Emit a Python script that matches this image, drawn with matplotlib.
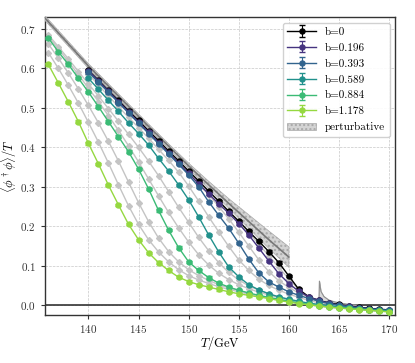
import numpy as np
import matplotlib
matplotlib.use("Agg")
import matplotlib.pyplot as plt

plt.rcParams['font.family'] = 'serif'
plt.rcParams['font.serif'] = ['cmr10', 'DejaVu Serif']
plt.rcParams['mathtext.fontset'] = 'cm'
plt.rcParams['axes.formatter.use_mathtext'] = True
plt.rcParams['font.size'] = 8

# temperatures (GeV)
T_short = np.arange(140, 171)
T_long = np.arange(136, 171)

# coloured curves (legend)
y_b0 = [0.595, 0.570, 0.544, 0.519, 0.493, 0.468, 0.442, 0.417, 0.391, 0.366,
        0.340, 0.315, 0.289, 0.264, 0.238, 0.213, 0.187, 0.162, 0.136, 0.108,
        0.074, 0.040, 0.021, 0.012, 0.006, 0.002, -0.002, -0.005, -0.008, -0.010, -0.012]
y_b196 = [0.594, 0.568, 0.542, 0.516, 0.490, 0.464, 0.438, 0.412, 0.386, 0.360,
          0.334, 0.308, 0.282, 0.257, 0.233, 0.207, 0.178, 0.145, 0.112, 0.080,
          0.055, 0.035, 0.021, 0.012, 0.005, 0.000, -0.003, -0.006, -0.009, -0.011, -0.013]
y_b393 = [0.590, 0.565, 0.539, 0.513, 0.487, 0.461, 0.435, 0.409, 0.383, 0.357,
          0.330, 0.300, 0.262, 0.228, 0.195, 0.157, 0.117, 0.082, 0.059, 0.046,
          0.034, 0.025, 0.017, 0.010, 0.004, 0.000, -0.004, -0.007, -0.009, -0.011, -0.013]
y_b589 = [0.575, 0.547, 0.519, 0.491, 0.462, 0.435, 0.406, 0.372, 0.340, 0.305,
          0.267, 0.224, 0.178, 0.135, 0.097, 0.072, 0.052, 0.039, 0.029, 0.021,
          0.015, 0.010, 0.005, 0.002, -0.001, -0.004, -0.006, -0.009, -0.011, -0.013, -0.014]
y_b884 = [0.677, 0.642, 0.610, 0.575, 0.540, 0.503, 0.465, 0.427, 0.389, 0.345,
          0.295, 0.240, 0.190, 0.146, 0.110, 0.088, 0.070, 0.056, 0.046, 0.038,
          0.031, 0.025, 0.020, 0.015, 0.010, 0.006, 0.002, -0.001, -0.004, -0.006,
          -0.008, -0.010, -0.012, -0.014, -0.016]
y_b1178 = [0.610, 0.563, 0.515, 0.465, 0.410, 0.358, 0.304, 0.254, 0.205, 0.166,
           0.133, 0.108, 0.088, 0.071, 0.060, 0.052, 0.046, 0.040, 0.034, 0.029,
           0.025, 0.021, 0.017, 0.012, 0.008, 0.004, 0.001, -0.002, -0.005, -0.007,
           -0.009, -0.011, -0.013, -0.015, -0.017]

# intermediate b values (grey, no legend)
g_098 = [0.593, 0.568, 0.542, 0.517, 0.491, 0.466, 0.440, 0.415, 0.389, 0.364,
         0.338, 0.313, 0.287, 0.262, 0.236, 0.211, 0.184, 0.155, 0.125, 0.096,
         0.066, 0.040, 0.022, 0.012, 0.006, 0.001, -0.003, -0.006, -0.008, -0.010, -0.012]
g_295 = [0.592, 0.566, 0.540, 0.515, 0.489, 0.463, 0.437, 0.411, 0.386, 0.360,
         0.333, 0.306, 0.280, 0.250, 0.219, 0.185, 0.150, 0.115, 0.085, 0.062,
         0.045, 0.031, 0.020, 0.011, 0.005, 0.000, -0.004, -0.007, -0.009, -0.011, -0.013]
g_491 = [0.585, 0.558, 0.530, 0.503, 0.476, 0.450, 0.423, 0.395, 0.367, 0.337,
         0.302, 0.264, 0.224, 0.186, 0.149, 0.115, 0.088, 0.066, 0.050, 0.038,
         0.028, 0.020, 0.012, 0.006, 0.002, -0.002, -0.005, -0.008, -0.010, -0.012, -0.014]
g_687 = [0.685, 0.655, 0.624, 0.592, 0.561, 0.530, 0.498, 0.466, 0.433, 0.400,
         0.365, 0.328, 0.288, 0.248, 0.210, 0.172, 0.138, 0.108, 0.083, 0.064,
         0.049, 0.038, 0.029, 0.021, 0.015, 0.009, 0.004, 0.001, -0.002, -0.005,
         -0.007, -0.009, -0.011, -0.013, -0.015]
g_785 = [0.680, 0.650, 0.617, 0.584, 0.550, 0.516, 0.480, 0.443, 0.404, 0.363,
         0.320, 0.277, 0.235, 0.196, 0.160, 0.128, 0.102, 0.081, 0.065, 0.052,
         0.042, 0.033, 0.026, 0.019, 0.013, 0.008, 0.003, 0.000, -0.003, -0.005,
         -0.007, -0.009, -0.011, -0.013, -0.015]
g_982 = [0.662, 0.626, 0.588, 0.548, 0.506, 0.462, 0.415, 0.365, 0.312, 0.260,
         0.212, 0.170, 0.136, 0.110, 0.090, 0.075, 0.063, 0.052, 0.044, 0.037,
         0.030, 0.024, 0.019, 0.014, 0.009, 0.005, 0.001, -0.002, -0.005, -0.007,
         -0.009, -0.011, -0.013, -0.015, -0.016]
g_1080 = [0.640, 0.600, 0.557, 0.512, 0.463, 0.413, 0.360, 0.305, 0.252, 0.205,
          0.166, 0.135, 0.110, 0.090, 0.075, 0.064, 0.055, 0.047, 0.040, 0.034,
          0.028, 0.023, 0.018, 0.013, 0.009, 0.005, 0.001, -0.002, -0.005, -0.007,
          -0.009, -0.011, -0.013, -0.015, -0.016]

# perturbative band
pert_T = [135.5, 136, 138, 140, 142, 144, 146, 148, 150, 152, 154, 156, 158, 160]
pert_mid = [0.732, 0.718, 0.662, 0.606, 0.555, 0.504, 0.453, 0.403, 0.353, 0.305,
            0.258, 0.212, 0.166, 0.122]
pert_hw = [0.006, 0.006, 0.006, 0.006, 0.006, 0.006, 0.006, 0.006, 0.007, 0.009,
           0.012, 0.017, 0.022, 0.026]
pert2_T = [163.0, 163.05, 163.2, 163.5, 164, 164.5, 165, 166, 167]
pert2_mid = [0.010, 0.061, 0.035, 0.022, 0.013, 0.009, 0.006, 0.002, 0.000]
pert2_lo = [0.005, 0.020, 0.014, 0.010, 0.006, 0.004, 0.002, 0.000, -0.001]

colored = [("b=0", T_short, y_b0, "black"),
           ("b=0.196", T_short, y_b196, plt.cm.viridis(0.15)),
           ("b=0.393", T_short, y_b393, plt.cm.viridis(0.32)),
           ("b=0.589", T_short, y_b589, plt.cm.viridis(0.50)),
           ("b=0.884", T_long, y_b884, plt.cm.viridis(0.68)),
           ("b=1.178", T_long, y_b1178, plt.cm.viridis(0.84))]
grey = [(T_short, g_098), (T_short, g_295), (T_short, g_491),
        (T_long, g_687), (T_long, g_785), (T_long, g_982), (T_long, g_1080)]

fig = plt.figure(figsize=(4.15, 3.63), dpi=100)
ax = fig.add_axes([0.108, 0.132, 0.844, 0.821])

ax.axhline(0, color='#333333', lw=1.2, zorder=1)

for T, y in grey:
    ax.plot(T, y, color='#c4c4c4', marker='D', ms=3, lw=1.0, zorder=2)

pm = np.array(pert_mid)
ph = np.array(pert_hw)
ax.fill_between(pert_T, pm - ph, pm + ph, facecolor='#d4d4d4', edgecolor='#a8a8a8',
                hatch='....', lw=0.5, zorder=3, label='perturbative')
ax.plot(pert_T, pert_mid, color='#777777', lw=1.2, zorder=3)
ax.fill_between(pert2_T, pert2_lo, pert2_mid, facecolor='#dadada', edgecolor='#b0b0b0',
                lw=0.4, zorder=3)
ax.plot(pert2_T, pert2_mid, color='#909090', lw=0.8, zorder=3)

for i, (lab, T, y, c) in enumerate(colored):
    ax.errorbar(T, y, yerr=0.003, color=c, marker='o', ms=3.6, lw=1.0,
                capsize=2.5, elinewidth=0.8, zorder=4 + i, label=lab)

ax.set_xlim(135.65, 170.6)
ax.set_ylim(-0.025, 0.73)
ax.set_xticks([140, 145, 150, 155, 160, 165, 170])
ax.set_yticks([0.0, 0.1, 0.2, 0.3, 0.4, 0.5, 0.6, 0.7])
ax.grid(True, ls='--', lw=0.5, color='#c8c8c8')
ax.set_axisbelow(True)
for s in ax.spines.values():
    s.set_color('#333333')
    s.set_linewidth(1.0)
ax.tick_params(colors='#333333', labelcolor='#333333', width=0.8, length=3)
ax.tick_params(axis='x', pad=2.5)

ax.set_xlabel(r'$T/$GeV', fontsize=9)
ax.set_ylabel(r'$\langle\phi^\dagger\phi\rangle/T$', fontsize=9)
ax.xaxis.set_label_coords(0.5, -0.063)
ax.yaxis.set_label_coords(-0.075, 0.5)

h, l = ax.get_legend_handles_labels()
order = [l.index(k) for k in ["b=0", "b=0.196", "b=0.393", "b=0.589", "b=0.884",
                              "b=1.178", "perturbative"]]
ax.legend([h[i] for i in order], [l[i] for i in order], loc='upper right',
          fontsize=8, fancybox=True, framealpha=0.9, edgecolor='#cccccc',
          handlelength=2.6, borderaxespad=0.5, labelspacing=0.55)

fig.savefig('out.png', dpi=100)
